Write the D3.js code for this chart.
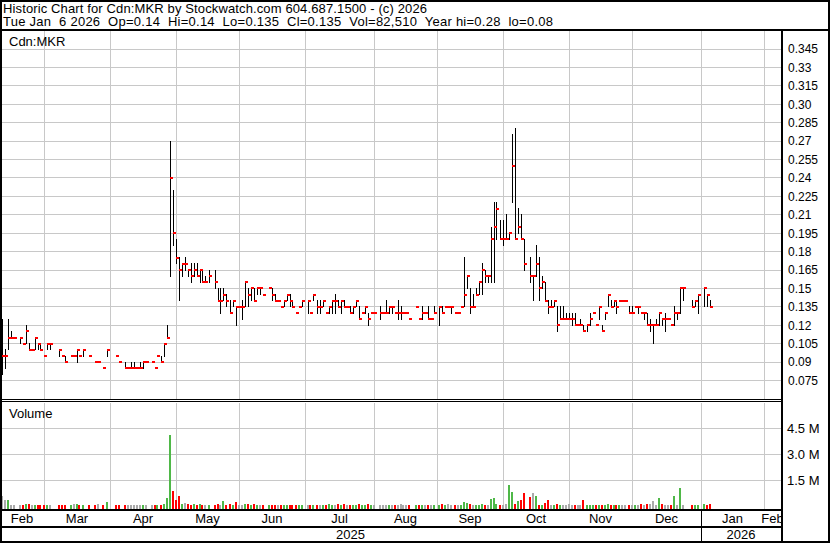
<!DOCTYPE html>
<html>
<head>
<meta charset="utf-8">
<script src="https://cdn.jsdelivr.net/npm/d3@7"></script>
<style>
  body { margin: 0; background: #fff; }
  svg { display: block; }
  text { font-family: "Liberation Sans", Arial, sans-serif; fill: #000; }
</style>
</head>
<body>
<div id="chart"></div>
<script>
// daily bars, Cdn:MKR
const dates = [
  "2025-02-10","2025-02-11","2025-02-12","2025-02-13","2025-02-14","2025-02-18","2025-02-19","2025-02-20","2025-02-21","2025-02-24",
  "2025-02-25","2025-02-26","2025-02-27","2025-02-28","2025-03-03","2025-03-04","2025-03-07","2025-03-10","2025-03-11","2025-03-13",
  "2025-03-14","2025-03-17","2025-03-18","2025-03-19","2025-03-21","2025-03-25","2025-03-26","2025-03-28","2025-03-31","2025-04-03",
  "2025-04-04","2025-04-08","2025-04-09","2025-04-10","2025-04-11","2025-04-14","2025-04-15","2025-04-16","2025-04-17","2025-04-21",
  "2025-04-22","2025-04-23","2025-04-24","2025-04-25","2025-04-28","2025-04-29","2025-04-30","2025-05-01","2025-05-02","2025-05-05",
  "2025-05-06","2025-05-07","2025-05-08","2025-05-09","2025-05-12","2025-05-13","2025-05-14","2025-05-15","2025-05-16","2025-05-20",
  "2025-05-21","2025-05-22","2025-05-23","2025-05-26","2025-05-27","2025-05-28","2025-05-29","2025-05-30","2025-06-02","2025-06-03",
  "2025-06-04","2025-06-05","2025-06-06","2025-06-09","2025-06-10","2025-06-11","2025-06-13","2025-06-16","2025-06-17","2025-06-18",
  "2025-06-19","2025-06-20","2025-06-23","2025-06-24","2025-06-25","2025-06-26","2025-06-27","2025-06-30","2025-07-02","2025-07-03",
  "2025-07-04","2025-07-07","2025-07-08","2025-07-09","2025-07-10","2025-07-11","2025-07-14","2025-07-15","2025-07-16","2025-07-17",
  "2025-07-18","2025-07-21","2025-07-22","2025-07-23","2025-07-24","2025-07-25","2025-07-28","2025-07-29","2025-07-30","2025-07-31",
  "2025-08-01","2025-08-05","2025-08-06","2025-08-07","2025-08-08","2025-08-11","2025-08-12","2025-08-13","2025-08-14","2025-08-15",
  "2025-08-18","2025-08-19","2025-08-21","2025-08-22","2025-08-25","2025-08-26","2025-08-27","2025-08-28","2025-08-29","2025-09-02",
  "2025-09-03","2025-09-04","2025-09-05","2025-09-08","2025-09-09","2025-09-10","2025-09-11","2025-09-12","2025-09-15","2025-09-16",
  "2025-09-17","2025-09-18","2025-09-19","2025-09-22","2025-09-23","2025-09-24","2025-09-25","2025-09-26","2025-09-29","2025-09-30",
  "2025-10-01","2025-10-02","2025-10-03","2025-10-06","2025-10-07","2025-10-08","2025-10-09","2025-10-10","2025-10-14","2025-10-15",
  "2025-10-16","2025-10-17","2025-10-20","2025-10-21","2025-10-22","2025-10-23","2025-10-24","2025-10-27","2025-10-28","2025-10-29",
  "2025-10-30","2025-10-31","2025-11-03","2025-11-04","2025-11-05","2025-11-06","2025-11-07","2025-11-10","2025-11-11","2025-11-12",
  "2025-11-13","2025-11-14","2025-11-17","2025-11-18","2025-11-19","2025-11-20","2025-11-21","2025-11-24","2025-11-25","2025-11-26",
  "2025-11-27","2025-11-28","2025-12-01","2025-12-02","2025-12-03","2025-12-04","2025-12-05","2025-12-08","2025-12-09","2025-12-10",
  "2025-12-11","2025-12-12","2025-12-15","2025-12-16","2025-12-17","2025-12-18","2025-12-19","2025-12-22","2025-12-23","2025-12-24",
  "2025-12-29","2025-12-30","2025-12-31","2026-01-02","2026-01-05","2026-01-06"
];
const highs = [
  0.125,0.10,0.125,0.115,0.11,0.11,0.105,0.12,0.105,0.10,
  0.11,0.105,0.105,0.095,0.105,0.105,0.10,0.095,0.095,0.095,
  0.095,0.10,0.095,0.10,0.095,0.09,0.09,0.085,0.10,0.095,
  0.09,0.09,0.085,0.09,0.09,0.085,0.09,0.09,0.09,0.09,
  0.085,0.095,0.095,0.105,0.12,0.27,0.23,0.19,0.175,0.17,
  0.175,0.165,0.17,0.17,0.17,0.165,0.165,0.16,0.165,0.165,
  0.15,0.15,0.15,0.145,0.14,0.14,0.135,0.135,0.14,0.155,
  0.15,0.15,0.15,0.15,0.15,0.145,0.15,0.15,0.145,0.14,
  0.135,0.14,0.145,0.145,0.14,0.13,0.135,0.14,0.14,0.13,
  0.145,0.14,0.14,0.14,0.13,0.135,0.14,0.145,0.14,0.14,
  0.14,0.135,0.135,0.135,0.14,0.135,0.13,0.135,0.13,0.13,
  0.13,0.135,0.13,0.14,0.135,0.135,0.13,0.14,0.135,0.13,
  0.13,0.125,0.135,0.125,0.135,0.13,0.135,0.125,0.135,0.135,
  0.135,0.135,0.135,0.135,0.13,0.13,0.135,0.175,0.16,0.15,
  0.145,0.15,0.155,0.17,0.165,0.16,0.20,0.22,0.22,0.205,
  0.205,0.21,0.195,0.275,0.28,0.215,0.21,0.19,0.175,0.16,
  0.185,0.175,0.16,0.155,0.14,0.14,0.14,0.135,0.135,0.135,
  0.13,0.13,0.13,0.13,0.12,0.125,0.12,0.12,0.13,0.13,
  0.12,0.135,0.12,0.13,0.145,0.14,0.14,0.14,0.14,0.14,
  0.14,0.135,0.135,0.135,0.135,0.13,0.13,0.13,0.125,0.12,
  0.125,0.13,0.125,0.13,0.125,0.12,0.135,0.13,0.15,0.15,
  0.14,0.14,0.145,0.15,0.145,0.14
];
const lows = [
  0.08,0.085,0.10,0.11,0.11,0.105,0.105,0.105,0.10,0.10,
  0.10,0.10,0.10,0.095,0.10,0.10,0.095,0.095,0.09,0.095,
  0.095,0.09,0.095,0.095,0.095,0.09,0.09,0.085,0.095,0.095,
  0.09,0.085,0.085,0.085,0.085,0.085,0.085,0.085,0.09,0.09,
  0.085,0.095,0.09,0.095,0.11,0.16,0.185,0.17,0.14,0.16,
  0.165,0.16,0.155,0.16,0.16,0.155,0.155,0.155,0.155,0.15,
  0.14,0.13,0.14,0.135,0.13,0.135,0.12,0.135,0.125,0.135,
  0.135,0.14,0.14,0.145,0.145,0.145,0.15,0.14,0.14,0.14,
  0.135,0.135,0.14,0.135,0.135,0.13,0.135,0.135,0.13,0.13,
  0.14,0.13,0.13,0.135,0.13,0.13,0.13,0.13,0.135,0.13,
  0.135,0.135,0.13,0.13,0.135,0.125,0.13,0.13,0.12,0.13,
  0.13,0.125,0.13,0.13,0.13,0.13,0.13,0.125,0.125,0.13,
  0.13,0.125,0.135,0.125,0.125,0.13,0.125,0.125,0.13,0.12,
  0.13,0.135,0.135,0.13,0.13,0.13,0.135,0.135,0.15,0.13,
  0.135,0.145,0.145,0.145,0.155,0.155,0.155,0.155,0.19,0.19,
  0.185,0.19,0.19,0.22,0.19,0.195,0.19,0.165,0.155,0.14,
  0.16,0.14,0.15,0.14,0.13,0.135,0.135,0.115,0.125,0.125,
  0.125,0.125,0.12,0.12,0.12,0.12,0.115,0.115,0.12,0.13,
  0.12,0.125,0.115,0.125,0.135,0.135,0.135,0.13,0.14,0.14,
  0.14,0.13,0.13,0.135,0.13,0.13,0.125,0.12,0.115,0.105,
  0.12,0.12,0.12,0.115,0.125,0.12,0.12,0.125,0.13,0.14,
  0.135,0.135,0.13,0.135,0.135,0.135
];
const closes = [
  0.095,0.095,0.11,0.11,0.11,0.11,0.105,0.115,0.10,0.10,
  0.11,0.105,0.10,0.095,0.105,0.105,0.10,0.095,0.09,0.095,
  0.095,0.10,0.095,0.10,0.095,0.09,0.09,0.085,0.10,0.095,
  0.09,0.085,0.085,0.085,0.085,0.085,0.085,0.09,0.09,0.09,
  0.085,0.095,0.09,0.105,0.11,0.24,0.195,0.175,0.165,0.17,
  0.17,0.165,0.16,0.165,0.16,0.165,0.155,0.155,0.16,0.155,
  0.14,0.14,0.145,0.14,0.13,0.14,0.135,0.135,0.135,0.155,
  0.145,0.15,0.14,0.15,0.15,0.145,0.15,0.145,0.14,0.14,
  0.135,0.14,0.145,0.14,0.135,0.13,0.135,0.14,0.14,0.13,
  0.145,0.135,0.135,0.14,0.13,0.135,0.14,0.14,0.135,0.14,
  0.135,0.135,0.13,0.135,0.14,0.125,0.13,0.135,0.125,0.13,
  0.13,0.13,0.13,0.13,0.135,0.135,0.13,0.13,0.13,0.13,
  0.13,0.125,0.135,0.125,0.13,0.13,0.125,0.125,0.13,0.135,
  0.13,0.135,0.135,0.135,0.13,0.13,0.135,0.145,0.16,0.135,
  0.135,0.145,0.155,0.165,0.16,0.16,0.19,0.20,0.215,0.19,
  0.19,0.19,0.195,0.25,0.19,0.20,0.19,0.17,0.16,0.16,
  0.17,0.15,0.155,0.14,0.135,0.135,0.14,0.12,0.125,0.125,
  0.125,0.125,0.125,0.12,0.12,0.12,0.115,0.12,0.125,0.13,
  0.12,0.135,0.115,0.13,0.145,0.135,0.14,0.135,0.14,0.14,
  0.14,0.13,0.13,0.135,0.135,0.13,0.13,0.12,0.12,0.12,
  0.12,0.13,0.125,0.125,0.125,0.12,0.13,0.13,0.15,0.15,
  0.135,0.14,0.145,0.15,0.145,0.135
];
const volumes = [
  550000,360000,360000,30000,30000,40000,60000,90000,90000,50000,
  60000,30000,30000,30000,30000,60000,40000,50000,30000,30000,
  90000,120000,40000,30000,30000,30000,90000,30000,200000,40000,
  40000,60000,30000,40000,60000,40000,60000,60000,30000,30000,
  40000,40000,50000,120000,420000,4060000,840000,330000,560000,120000,
  140000,90000,50000,130000,40000,120000,40000,30000,30000,40000,
  120000,60000,250000,30000,120000,40000,190000,30000,30000,120000,
  120000,50000,80000,40000,30000,30000,30000,40000,30000,30000,
  50000,40000,30000,60000,30000,30000,30000,40000,50000,50000,
  60000,50000,40000,30000,40000,90000,40000,30000,120000,40000,
  90000,50000,60000,40000,40000,90000,50000,40000,90000,40000,
  30000,30000,30000,30000,50000,30000,60000,40000,120000,40000,
  30000,50000,50000,40000,50000,40000,40000,40000,30000,40000,
  90000,30000,80000,60000,40000,30000,30000,190000,170000,130000,
  60000,60000,50000,100000,60000,30000,380000,440000,80000,40000,
  60000,130000,1170000,790000,130000,270000,330000,710000,480000,710000,
  540000,50000,50000,170000,310000,50000,30000,130000,50000,50000,
  50000,80000,30000,30000,50000,30000,310000,30000,60000,30000,
  30000,30000,50000,50000,80000,50000,30000,30000,30000,30000,
  30000,30000,50000,30000,30000,90000,30000,120000,80000,270000,
  30000,440000,130000,50000,50000,30000,590000,50000,1000000,50000,
  50000,30000,30000,80000,30000,82510
];

// axes
const priceTicks = [0.075,0.09,0.105,0.12,0.135,0.15,0.165,0.18,0.195,0.21,0.225,0.24,0.255,0.27,0.285,0.30,0.315,0.33,0.345];
const volTicks = [1500000, 3000000, 4500000];
const monthStarts = ["2025-02-01","2025-03-01","2025-04-01","2025-05-01","2025-06-01","2025-07-01","2025-08-01",
  "2025-09-01","2025-10-01","2025-11-01","2025-12-01","2026-01-01","2026-02-01","2026-03-01"];
const monthLabels = ["Feb","Mar","Apr","May","Jun","Jul","Aug","Sep","Oct","Nov","Dec","Jan","Feb"];
const years = [["2025","2025-02-01","2026-01-01"],["2026","2026-01-01","2027-01-01"]];

const headerLine1 = "Historic Chart for Cdn:MKR by Stockwatch.com 604.687.1500 - (c) 2026";
const headerLine2 = "Tue Jan  6 2026  Op=0.14  Hi=0.14  Lo=0.135  Cl=0.135  Vol=82,510  Year hi=0.28  lo=0.08";

const W = 830, H = 543;
const plotL = 0, plotR = 781;
const priceTop = 31, priceBot = 399;
const volTop = 403, volBot = 509;

const svg = d3.select("#chart").append("svg")
    .attr("width", W)
    .attr("height", H);

const parse = d3.timeParse("%Y-%m-%d");
const start = parse(dates[0]);

// weekday index: weekends fall back on the previous Friday
function wdIndex(d) {
    let n = 0;
    const c = new Date(start);
    if (d < start) {
        while (c > d) { c.setDate(c.getDate() - 1); const w = c.getDay(); if (w !== 0 && w !== 6) n--; }
        return n;
    }
    while (c < d) {
        c.setDate(c.getDate() + 1);
        const w = c.getDay();
        if (w !== 0 && w !== 6) n++;
    }
    return n;
}

const x = d3.scaleLinear().domain([0, 259]).range([2, 779]);
const px = d => Math.floor(x(wdIndex(d)));
const y = d3.scaleLinear().domain([0.075, 0.345]).range([380.6, 49]);
const yv = d3.scaleLinear().domain([0, 4500000]).range([506.3, 428]);

const data = dates.map((d, i) => ({
    date: parse(d), hi: highs[i], lo: lows[i], cl: closes[i], vol: volumes[i],
    prev: i > 0 ? closes[i - 1] : closes[i]
}));

const grid = "#c8c8c8";
const g = svg.append("g");

// horizontal grid, price
g.selectAll(".pgrid").data(priceTicks).join("line")
    .attr("x1", plotL).attr("x2", plotR)
    .attr("y1", d => Math.floor(y(d)) + 0.5).attr("y2", d => Math.floor(y(d)) + 0.5)
    .attr("stroke", grid);

// horizontal grid, volume
g.selectAll(".vgrid").data(volTicks).join("line")
    .attr("x1", plotL).attr("x2", plotR)
    .attr("y1", d => Math.floor(yv(d)) + 0.5).attr("y2", d => Math.floor(yv(d)) + 0.5)
    .attr("stroke", grid);

// month grid
const monthX = monthStarts.map(s => px(parse(s)));
const gridMonths = monthX.filter(v => v > 2 && v < plotR);
[[priceTop, priceBot], [volTop, volBot]].forEach(([t, b]) => {
    g.selectAll(null).data(gridMonths).join("line")
        .attr("x1", d => d + 0.5).attr("x2", d => d + 0.5)
        .attr("y1", t).attr("y2", b)
        .attr("stroke", grid);
});

// volume bars
g.selectAll(".vbar").data(data).join("rect")
    .attr("x", d => px(d.date) - 1)
    .attr("width", 2)
    .attr("y", d => Math.floor(yv(d.vol)))
    .attr("height", d => volBot - Math.floor(yv(d.vol)))
    .attr("fill", d => d.cl > d.prev ? "#4fb848" : d.cl < d.prev ? "#ff0000" : "#aaaaaa");

// price bars: hi-lo
g.selectAll(".hl").data(data.filter(d => d.hi > d.lo)).join("rect")
    .attr("x", d => px(d.date))
    .attr("width", 1)
    .attr("y", d => Math.floor(y(d.hi)))
    .attr("height", d => Math.floor(y(d.lo)) - Math.floor(y(d.hi)) + 1)
    .attr("fill", "#000");

// close ticks
g.selectAll(".cl").data(data).join("rect")
    .attr("x", d => px(d.date))
    .attr("width", 3)
    .attr("y", d => Math.round(y(d.cl)) - 1)
    .attr("height", 2)
    .attr("fill", "#ff0000");

// frame
const frame = svg.append("g");
frame.append("rect").attr("x", 1).attr("y", 1).attr("width", 828).attr("height", 541)
    .attr("fill", "none").attr("stroke", "#000").attr("stroke-width", 2);
frame.append("rect").attr("x", 0).attr("y", 29).attr("width", W).attr("height", 2).attr("fill", "#000");
frame.append("rect").attr("x", 0).attr("y", 399).attr("width", plotR).attr("height", 1).attr("fill", "#000");
frame.append("rect").attr("x", 0).attr("y", 401).attr("width", plotR).attr("height", 1).attr("fill", "#000");
frame.append("rect").attr("x", 0).attr("y", volBot).attr("width", plotR).attr("height", 2).attr("fill", "#000");
frame.append("rect").attr("x", 0).attr("y", 526).attr("width", plotR).attr("height", 2).attr("fill", "#000");
frame.append("rect").attr("x", plotR).attr("y", 31).attr("width", 2).attr("height", 512).attr("fill", "#000");
const yearSplit = px(parse(years[1][1]));
frame.append("rect").attr("x", yearSplit).attr("y", 511).attr("width", 1).attr("height", 31).attr("fill", "#000");

// header
svg.append("text").attr("x", 3).attr("y", 13).attr("font-size", 13)
    .attr("textLength", 424).attr("lengthAdjust", "spacing")
    .attr("xml:space", "preserve").style("white-space", "pre").text(headerLine1);
svg.append("text").attr("x", 3).attr("y", 26).attr("font-size", 13)
    .attr("textLength", 550).attr("lengthAdjust", "spacing")
    .attr("xml:space", "preserve").style("white-space", "pre").text(headerLine2);

svg.append("text").attr("x", 9).attr("y", 46).attr("font-size", 13).text("Cdn:MKR");
svg.append("text").attr("x", 9).attr("y", 418).attr("font-size", 13).text("Volume");

// price axis labels
const fmtP = v => (Math.round(v * 1000) % 10 === 0) ? v.toFixed(2) : v.toFixed(3);
svg.selectAll(".plab").data(priceTicks).join("text")
    .attr("x", 788).attr("y", d => y(d) + 4.3)
    .attr("font-size", 12)
    .text(fmtP);

// volume axis labels
svg.selectAll(".vlab").data(volTicks).join("text")
    .attr("x", 787).attr("y", d => yv(d) + 4.6)
    .attr("font-size", 13)
    .text(d => (d / 1e6).toFixed(1) + " M");

// month labels, centered on the visible part of each month
const clip = svg.append("clipPath").attr("id", "axclip");
clip.append("rect").attr("x", 2).attr("y", 511).attr("width", plotR - 2).attr("height", 16);
svg.append("g").attr("clip-path", "url(#axclip)")
    .selectAll("text").data(monthLabels).join("text")
    .attr("x", (d, i) => (Math.max(monthX[i], 0) + Math.min(monthX[i + 1], plotR)) / 2)
    .attr("y", 522.7)
    .attr("text-anchor", "middle")
    .attr("font-size", 13)
    .text(d => d);

svg.selectAll(".ylab").data(years).join("text")
    .attr("x", d => (Math.max(px(parse(d[1])), 0) + Math.min(px(parse(d[2])), plotR)) / 2)
    .attr("y", 539)
    .attr("text-anchor", "middle")
    .attr("font-size", 13)
    .text(d => d[0]);
</script>
</body>
</html>
